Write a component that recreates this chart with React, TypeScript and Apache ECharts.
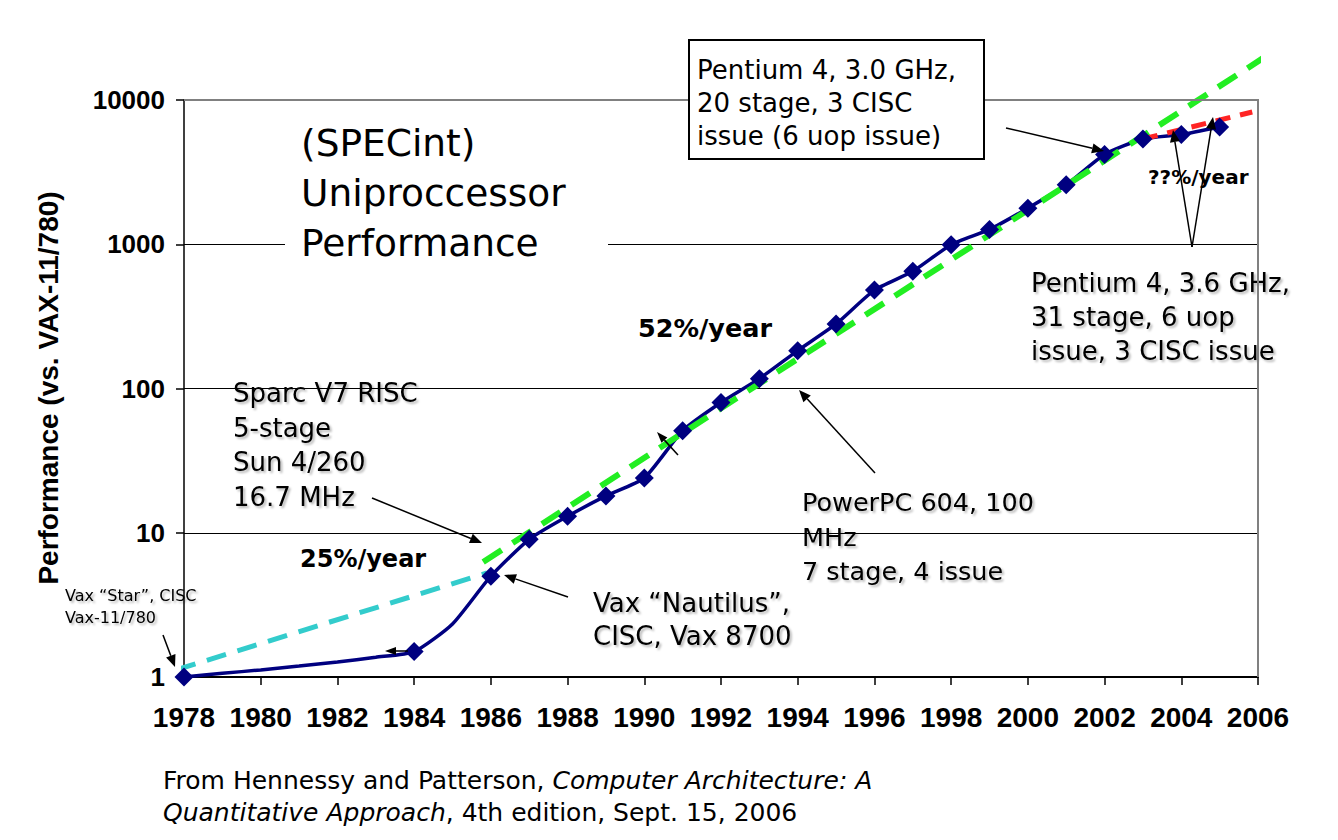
import React, { useEffect, useRef } from "react";
import * as echarts from "echarts";

// ---- Data ----
const years = [1978, 1979, 1980, 1981, 1982, 1983, 1984, 1985, 1986, 1987, 1988, 1989, 1990, 1991, 1992, 1993, 1994, 1995, 1996, 1997, 1998, 1999, 2000, 2001, 2002, 2003, 2004, 2005];
const perf = [1, 1.06, 1.12, 1.19, 1.27, 1.37, 1.5, 2.33, 5, 9, 13, 18, 24, 51, 80, 117, 183, 280, 481, 649, 993, 1267, 1779, 2584, 4195, 5364, 5764, 6505];
const unmarkedYears = [1979, 1980, 1981, 1982, 1983, 1985];

const trend25Years = [1977.8, 1985.9];
const trend25Values = [1.12, 5.26];
const trend52Years = [1985.8, 2006.13];
const trend52Values = [6.27, 19500];
const trendRecentYears = [2003, 2005.85];
const trendRecentValues = [5364, 8260];

const yTickLabels = [1, 10, 100, 1000, 10000];

// ---- Styles ----
const TFONT = '"DejaVu Sans", Verdana, sans-serif';
const AFONT = '"Liberation Sans", Arial, sans-serif';
const NAVY = "#000080";

const shadow = {
  textShadowColor: "rgba(0,0,0,0.28)",
  textShadowBlur: 2,
  textShadowOffsetX: 2,
  textShadowOffsetY: 2,
};

function textBlock(
  lines: string[],
  x: number,
  firstCenter: number,
  lh: number,
  size: number,
  opts: any = {}
) {
  return {
    type: "text",
    x,
    y: firstCenter - lh / 2,
    z: opts.z ?? 50,
    style: {
      text: lines.join("\n"),
      fill: "#000",
      fontSize: size,
      fontFamily: opts.family ?? TFONT,
      fontWeight: opts.bold ? "bold" : "normal",
      lineHeight: lh,
      align: "left",
      verticalAlign: "top",
      ...(opts.shadow ? shadow : {}),
    },
  };
}

function arrow(x1: number, y1: number, x2: number, y2: number, head = 12, w = 5) {
  const ang = Math.atan2(y2 - y1, x2 - x1);
  const c = Math.cos(ang);
  const s = Math.sin(ang);
  const bx = x2 - head * c;
  const by = y2 - head * s;
  const px = -s * w;
  const py = c * w;
  return [
    {
      type: "line",
      z: 60,
      shape: { x1, y1, x2: bx, y2: by },
      style: { stroke: "#000", lineWidth: 1.5 },
    },
    {
      type: "polygon",
      z: 60,
      shape: { points: [[x2, y2], [bx + px, by + py], [bx - px, by - py]] },
      style: { fill: "#000" },
    },
  ];
}

export default function App() {
  const ref = useRef<HTMLDivElement>(null);

  useEffect(() => {
    if (!ref.current) return;
    const chart = echarts.init(ref.current, null, { renderer: "svg" });

    const mainLine = years.map((y, i) => [y, perf[i]]);
    const markers = years
      .map((y, i) => [y, perf[i]])
      .filter((d) => !unmarkedYears.includes(d[0] as number));
    const t25 = trend25Years.map((y, i) => [y, trend25Values[i]]);
    const t52 = trend52Years.map((y, i) => [y, trend52Values[i]]);
    const tr = trendRecentYears.map((y, i) => [y, trendRecentValues[i]]);

    const graphics: any[] = [
      // white box behind title (covers gridline)
      {
        type: "rect",
        z: 1,
        shape: { x: 285, y: 108, width: 323, height: 160 },
        style: { fill: "#fff" },
      },
      // top & right plot border (gray)
      {
        type: "line",
        z: 10,
        shape: { x1: 184, y1: 100, x2: 1259, y2: 100 },
        style: { stroke: "#808080", lineWidth: 2 },
      },
      {
        type: "line",
        z: 10,
        shape: { x1: 1258, y1: 100, x2: 1258, y2: 677 },
        style: { stroke: "#808080", lineWidth: 2 },
      },
      textBlock(["(SPECint)", "Uniproccessor", "Performance"], 301, 143, 50, 37.5),
      // Pentium 3.0 box
      {
        type: "rect",
        z: 40,
        shape: { x: 689, y: 40, width: 295, height: 119 },
        style: { fill: "#fff", stroke: "#000", lineWidth: 2 },
      },
      textBlock(["Pentium 4, 3.0 GHz,", "20 stage, 3 CISC", "issue (6 uop issue)"], 697, 70, 33, 26),
      textBlock(["Pentium 4, 3.6 GHz,", "31 stage, 6 uop", "issue, 3 CISC issue"], 1031, 283, 34, 26, { shadow: true, z: 5 }),
      textBlock(["??%/year"], 1148, 177, 24, 20, { bold: true }),
      textBlock(["52%/year"], 638, 328, 30, 25.5, { bold: true }),
      textBlock(["25%/year"], 300, 559, 30, 24, { bold: true }),
      textBlock(["Sparc V7 RISC", "5-stage", "Sun 4/260", "16.7 MHz"], 233, 393, 34.7, 26, { shadow: true }),
      textBlock(["PowerPC 604, 100", "MHz", "7 stage, 4 issue"], 802, 502, 34.5, 25.5, { shadow: true }),
      textBlock(["Vax \u201CNautilus\u201D,", "CISC, Vax 8700"], 593, 603, 33, 26, { shadow: true }),
      textBlock(["Vax \u201CStar\u201D, CISC", "Vax-11/780"], 65, 595, 22, 16, { shadow: true }),
      // y axis title
      {
        type: "text",
        x: 48,
        y: 388,
        rotation: Math.PI / 2,
        z: 50,
        style: {
          text: "Performance (vs. VAX-11/780)",
          fill: "#000",
          fontSize: 28,
          fontWeight: "bold",
          fontFamily: AFONT,
          align: "center",
          verticalAlign: "middle",
        },
      },
      // footer
      {
        type: "text",
        x: 163,
        y: 764,
        z: 50,
        style: {
          text:
            "{n|From Hennessy and Patterson, }{i|Computer Architecture: A}\n{i|Quantitative Approach}{n|, 4th edition, Sept. 15, 2006}",
          fill: "#000",
          fontSize: 25,
          fontFamily: TFONT,
          lineHeight: 32,
          align: "left",
          verticalAlign: "top",
          rich: {
            n: { fontSize: 25, fontFamily: TFONT, lineHeight: 32, fill: "#000" },
            i: { fontSize: 25, fontFamily: TFONT, fontStyle: "italic", lineHeight: 32, fill: "#000" },
          },
        },
      },
      ...arrow(163, 635, 175, 667),
      ...arrow(408, 651, 385, 651, 11, 4),
      ...arrow(372, 498, 482, 543),
      ...arrow(568, 597, 504, 575),
      ...arrow(678, 455, 657, 432, 11, 4),
      ...arrow(875, 473, 799, 390),
      ...arrow(1006, 128, 1104, 151),
      ...arrow(1192, 247, 1173, 130),
      ...arrow(1192, 247, 1213, 117),
    ];

    const option: any = {
      animation: false,
      backgroundColor: "#fff",
      grid: { left: 184, top: 100, right: 80, bottom: 163, show: false },
      xAxis: {
        type: "value",
        min: 1978,
        max: 2006,
        interval: 2,
        axisLine: { show: true, onZero: false, lineStyle: { color: "#000", width: 2 } },
        axisTick: { show: true, inside: false, length: 8, lineStyle: { color: "#000", width: 1.5 } },
        axisLabel: {
          fontSize: 28,
          fontWeight: "bold",
          fontFamily: AFONT,
          color: "#000",
          margin: 26,
          formatter: (v: number) => String(v),
        },
        splitLine: { show: false },
      },
      yAxis: {
        type: "log",
        logBase: 10,
        min: yTickLabels[0],
        max: yTickLabels[yTickLabels.length - 1],
        axisLine: { show: true, lineStyle: { color: "#000", width: 1.5 } },
        axisTick: { show: true, inside: false, length: 8, lineStyle: { color: "#000", width: 1.5 } },
        axisLabel: {
          fontSize: 26,
          fontWeight: "bold",
          fontFamily: AFONT,
          color: "#000",
          margin: 19,
          formatter: (v: number) => String(Math.round(v)),
        },
        splitLine: { show: true, lineStyle: { color: "#000", width: 1 } },
        minorTick: { show: false },
      },
      series: [
        {
          type: "line",
          name: "perf",
          data: mainLine,
          smooth: 0.2,
          showSymbol: false,
          symbol: "none",
          lineStyle: { color: NAVY, width: 3.5 },
          z: 2,
        },
        {
          type: "line",
          name: "25%",
          data: t25,
          clip: false,
          showSymbol: false,
          symbol: "none",
          lineStyle: { color: "#33CCCC", width: 5, type: [20, 12] },
          z: 3,
        },
        {
          type: "line",
          name: "52%",
          data: t52,
          clip: false,
          showSymbol: false,
          symbol: "none",
          lineStyle: { color: "#22EE22", width: 6, type: [22, 13] },
          z: 3,
        },
        {
          type: "line",
          name: "recent",
          data: tr,
          clip: false,
          showSymbol: false,
          symbol: "none",
          lineStyle: { color: "#FF2424", width: 5, type: [15, 10] },
          z: 3,
        },
        {
          type: "scatter",
          name: "markers",
          data: markers,
          symbol: "diamond",
          symbolSize: [19, 19],
          clip: false,
          itemStyle: { color: NAVY, opacity: 1 },
          z: 4,
        },
      ],
      graphic: { elements: graphics },
    };

    chart.setOption(option);
    return () => chart.dispose();
  }, []);

  return (
    <div
      ref={ref}
      style={{ position: "absolute", left: 0, top: 0, width: 1338, height: 840, background: "#fff" }}
    />
  );
}
